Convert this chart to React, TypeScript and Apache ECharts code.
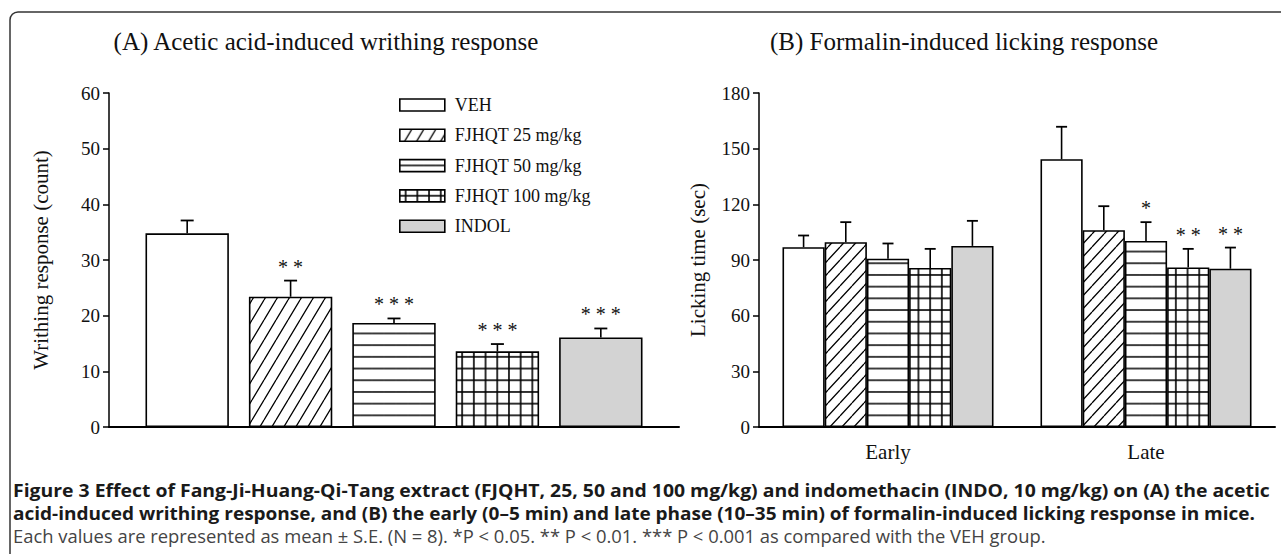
import React, { useEffect, useRef } from 'react';
import * as echarts from 'echarts';

// ---------- data ----------
const groups = ['VEH', 'FJHQT 25 mg/kg', 'FJHQT 50 mg/kg', 'FJHQT 100 mg/kg', 'INDOL'];

// (A) acetic acid-induced writhing
const writhingMean = [34.8, 23.4, 18.7, 13.6, 16.1];
const writhingSE = [2.3, 2.9, 0.8, 1.3, 1.6];
const writhingStars = ['', '**', '***', '***', '***'];

// (B) formalin-induced licking
const phases = ['Early', 'Late'];
const lickingEarlyMean = [96.9, 99.6, 90.7, 85.7, 97.6];
const lickingEarlySE = [6.3, 10.8, 8.2, 10.3, 13.5];
const lickingEarlyStars = ['', '', '', '', ''];
const lickingLateMean = [144.3, 106.1, 100.3, 86.0, 85.3];
const lickingLateSE = [17.5, 12.9, 10.1, 10.0, 11.4];
const lickingLateStars = ['', '', '*', '**', '**'];

const writhingTicks = { min: 0, max: 60, interval: 10 };
const lickingTicks = { min: 0, max: 180, interval: 30 };

const titleA = '(A) Acetic acid-induced writhing response';
const titleB = '(B) Formalin-induced licking response';
const yNameA = 'Writhing response (count)';
const yNameB = 'Licking time (sec)';
const caption1 =
  'Figure 3 Effect of Fang-Ji-Huang-Qi-Tang extract (FJQHT, 25, 50 and 100 mg/kg) and indomethacin (INDO, 10 mg/kg) on (A) the acetic';
const caption2 =
  'acid-induced writhing response, and (B) the early (0–5 min) and late phase (10–35 min) of formalin-induced licking response in mice.';
const caption3 =
  'Each values are represented as mean ± S.E. (N = 8). *P < 0.05. ** P < 0.01. *** P < 0.001 as compared with the VEH group.';

// ---------- styling helpers ----------
const SERIF = "'Liberation Serif', 'Times New Roman', Times, serif";
const SANS = "'Open Sans', 'Noto Sans', 'Liberation Sans', sans-serif";

function tile(inner: string, w: number, h: number) {
  const svg = `<svg xmlns="http://www.w3.org/2000/svg" width="${w}" height="${h}" viewBox="0 0 ${w} ${h}"><rect x="0" y="0" width="${w}" height="${h}" fill="#ffffff"/>${inner}</svg>`;
  return {
    image: 'data:image/svg+xml;charset=utf-8,' + encodeURIComponent(svg),
    repeat: 'repeat',
    imageWidth: w,
    imageHeight: h,
  } as any;
}
function diag(w: number, h: number) {
  return tile(
    `<path d="M${-w} ${h} L0 0 M0 ${h} L${w} 0 M${w} ${h} L${2 * w} 0" stroke="#000" stroke-width="1.3" fill="none"/>`,
    w,
    h
  );
}
function horiz(w: number, h: number) {
  return tile(`<line x1="0" y1="${h / 2}" x2="${w}" y2="${h / 2}" stroke="#000" stroke-width="1.5"/>`, w, h);
}
function gridTile(w: number, h: number) {
  return tile(
    `<line x1="0" y1="${h / 2}" x2="${w}" y2="${h / 2}" stroke="#000" stroke-width="1.6"/><line x1="${w / 2}" y1="0" x2="${w / 2}" y2="${h}" stroke="#000" stroke-width="1.6"/>`,
    w,
    h
  );
}

const fillsA = ['#ffffff', diag(12, 20), horiz(12, 11.7), gridTile(11.7, 11.7), '#d3d3d3'];
const fillsB = ['#ffffff', diag(12, 13), horiz(12, 11.7), gridTile(11.7, 11.7), '#d3d3d3'];

const GAP_A = { cat: 0.128, bar: 0.24 };
const GAP_B = { cat: 0.182, bar: 0 };

type ErrItem = { cat: number; bar: number; mean: number; se: number; stars: string };

const errItemsA: ErrItem[] = groups.map((_, i) => ({
  cat: 0,
  bar: i,
  mean: writhingMean[i],
  se: writhingSE[i],
  stars: writhingStars[i],
}));
const errItemsB: ErrItem[] = [
  ...groups.map((_, i) => ({ cat: 0, bar: i, mean: lickingEarlyMean[i], se: lickingEarlySE[i], stars: lickingEarlyStars[i] })),
  ...groups.map((_, i) => ({ cat: 1, bar: i, mean: lickingLateMean[i], se: lickingLateSE[i], stars: lickingLateStars[i] })),
];

function errorRenderer(items: ErrItem[], gaps: { cat: number; bar: number }, capW: number) {
  return (params: any, api: any) => {
    const it = items[params.dataIndex];
    const n = groups.length;
    const band = api.size([1, 0])[0];
    const avail = band * (1 - gaps.cat);
    const bw = avail / (n + (n - 1) * gaps.bar);
    const center = api.coord([it.cat, 0])[0];
    const x = center - avail / 2 + it.bar * bw * (1 + gaps.bar) + bw / 2;
    const yBase = api.coord([it.cat, it.mean])[1];
    const yTop = api.coord([it.cat, it.mean + it.se])[1];
    const children: any[] = [
      { type: 'line', shape: { x1: x, y1: yBase, x2: x, y2: yTop }, style: { stroke: '#000', lineWidth: 1.6 } },
      {
        type: 'line',
        shape: { x1: x - capW / 2, y1: yTop, x2: x + capW / 2, y2: yTop },
        style: { stroke: '#000', lineWidth: 1.8 },
      },
    ];
    if (it.stars) {
      children.push({
        type: 'text',
        style: {
          text: it.stars.split('').join(' '),
          x,
          y: yTop - 14,
          align: 'center',
          verticalAlign: 'middle',
          fontSize: 20,
          fontFamily: SERIF,
          fill: '#111',
        },
      });
    }
    return { type: 'group', children };
  };
}

export default function App() {
  const ref = useRef<HTMLDivElement>(null);

  useEffect(() => {
    if (!ref.current) return;
    const chart = echarts.init(ref.current, undefined, { renderer: 'svg' });

    const axisLabelStyle = { fontFamily: SERIF, fontSize: 19, color: '#111' };

    const barsA = groups.map((g, i) => ({
      name: g,
      type: 'bar',
      xAxisIndex: 0,
      yAxisIndex: 0,
      data: [writhingMean[i]],
      barCategoryGap: `${GAP_A.cat * 100}%`,
      barGap: `${GAP_A.bar * 100}%`,
      itemStyle: { color: fillsA[i], borderColor: '#000', borderWidth: 1.6 },
      emphasis: { disabled: true },
    }));
    const barsB = groups.map((g, i) => ({
      name: g,
      type: 'bar',
      xAxisIndex: 1,
      yAxisIndex: 1,
      data: [lickingEarlyMean[i], lickingLateMean[i]],
      barCategoryGap: `${GAP_B.cat * 100}%`,
      barGap: `${GAP_B.bar * 100}%`,
      itemStyle: { color: fillsB[i], borderColor: '#000', borderWidth: 1.6 },
      emphasis: { disabled: true },
    }));

    const captionText = (text: string, y: number, font: string, fill: string, sx: number) => ({
      type: 'text',
      x: 13,
      y,
      scaleX: sx,
      style: { text, font, fill, verticalAlign: 'middle' },
    });

    chart.setOption({
      animation: false,
      backgroundColor: '#ffffff',
      title: [
        {
          text: titleA,
          left: 326,
          top: 29,
          textAlign: 'center',
          padding: 0,
          textStyle: { fontFamily: SERIF, fontSize: 25, fontWeight: 'normal', color: '#111' },
        },
        {
          text: titleB,
          left: 964,
          top: 29,
          textAlign: 'center',
          padding: 0,
          textStyle: { fontFamily: SERIF, fontSize: 25, fontWeight: 'normal', color: '#111' },
        },
      ],
      legend: {
        data: groups,
        orient: 'vertical',
        left: 399,
        top: 96,
        itemWidth: 45,
        itemHeight: 12,
        itemGap: 12.3,
        icon: 'rect',
        selectedMode: false,
        padding: 0,
        itemStyle: { borderColor: '#000', borderWidth: 1.6 },
        textStyle: { fontFamily: SERIF, fontSize: 18, color: '#111', padding: [0, 0, 0, 5] },
      },
      grid: [
        { left: 109, top: 93, width: 570, height: 334 },
        { left: 759, top: 93, width: 516, height: 334 },
      ],
      xAxis: [
        {
          type: 'category',
          gridIndex: 0,
          data: ['A'],
          axisLine: { lineStyle: { color: '#000', width: 2 } },
          axisTick: { show: false },
          axisLabel: { show: false },
        },
        {
          type: 'category',
          gridIndex: 1,
          data: phases,
          axisLine: { lineStyle: { color: '#000', width: 2 } },
          axisTick: { show: false },
          axisLabel: { fontFamily: SERIF, fontSize: 21, color: '#111', margin: 14 },
        },
      ],
      yAxis: [
        {
          type: 'value',
          gridIndex: 0,
          ...writhingTicks,
          name: yNameA,
          nameLocation: 'middle',
          nameGap: 58,
          nameTextStyle: { fontFamily: SERIF, fontSize: 21, color: '#111' },
          axisLine: { show: true, lineStyle: { color: '#000', width: 1.5 } },
          axisTick: { show: true, length: 6, lineStyle: { color: '#000', width: 1.5 } },
          axisLabel: { ...axisLabelStyle, margin: 9 },
          splitLine: { show: false },
        },
        {
          type: 'value',
          gridIndex: 1,
          ...lickingTicks,
          name: yNameB,
          nameLocation: 'middle',
          nameGap: 51,
          nameTextStyle: { fontFamily: SERIF, fontSize: 21, color: '#111' },
          axisLine: { show: true, lineStyle: { color: '#000', width: 1.5 } },
          axisTick: { show: true, length: 6, lineStyle: { color: '#000', width: 1.5 } },
          axisLabel: { ...axisLabelStyle, margin: 9 },
          splitLine: { show: false },
        },
      ],
      series: [
        ...barsA,
        ...barsB,
        {
          type: 'custom',
          name: 'errA',
          xAxisIndex: 0,
          yAxisIndex: 0,
          z: 5,
          renderItem: errorRenderer(errItemsA, GAP_A, 13),
          data: errItemsA.map((e) => [e.cat, e.mean + e.se]),
          encode: { x: 0, y: 1 },
          silent: true,
        },
        {
          type: 'custom',
          name: 'errB',
          xAxisIndex: 1,
          yAxisIndex: 1,
          z: 5,
          renderItem: errorRenderer(errItemsB, GAP_B, 11),
          data: errItemsB.map((e) => [e.cat, e.mean + e.se]),
          encode: { x: 0, y: 1 },
          silent: true,
        },
      ],
      graphic: [
        // figure frame (top + left with rounded corner)
        { type: 'line', shape: { x1: 18, y1: 12, x2: 1281, y2: 12 }, style: { stroke: '#333', lineWidth: 1.5 } },
        { type: 'line', shape: { x1: 10, y1: 20, x2: 10, y2: 554 }, style: { stroke: '#333', lineWidth: 1.5 } },
        {
          type: 'arc',
          shape: { cx: 18, cy: 20, r: 8, startAngle: Math.PI, endAngle: Math.PI * 1.5 },
          style: { stroke: '#333', lineWidth: 1.5, fill: 'none' },
        },
        captionText(caption1, 490, `bold 18px ${SANS}`, '#1a1a1a', 1.078),
        captionText(caption2, 513, `bold 18px ${SANS}`, '#1a1a1a', 1.056),
        captionText(caption3, 536, `17.4px ${SANS}`, '#444', 1.057),
      ],
    });

    return () => chart.dispose();
  }, []);

  return <div ref={ref} style={{ position: 'fixed', left: 0, top: 0, width: 1281, height: 558 }} />;
}
